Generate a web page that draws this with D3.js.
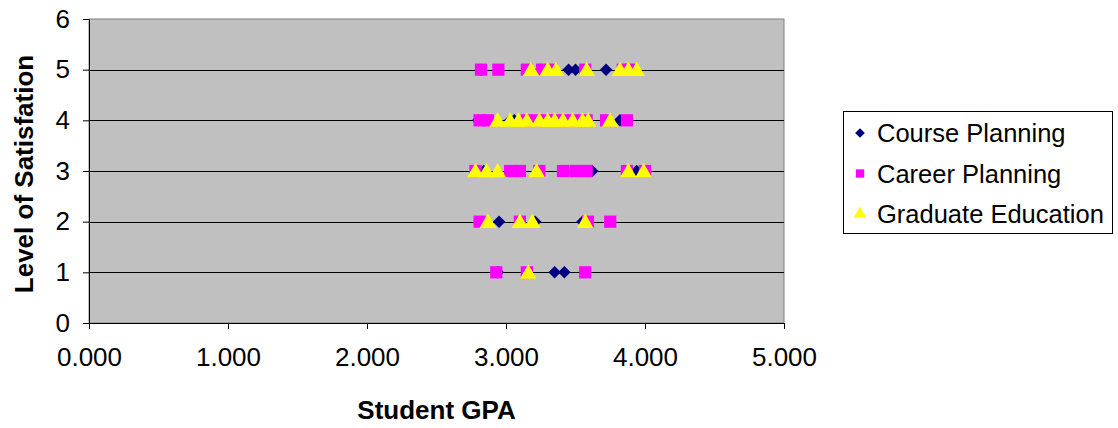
<!DOCTYPE html>
<html>
<head>
<meta charset="utf-8">
<script src="https://cdn.jsdelivr.net/npm/d3@7"></script>
<style>
	body { margin:0; background:#fff; overflow:hidden; }
	svg { display:block; }
	text { font-family: "Liberation Sans", Arial, sans-serif; }
</style>
</head>
<body>
<svg id="chart"></svg>
<script>
/*************** data *****************/
var seriesNames = ["Course Planning", "Career Planning", "Graduate Education"];
var xTicks = [0, 1, 2, 3, 4, 5];
var yTicks = [0, 1, 2, 3, 4, 5, 6];

// [GPA, satisfaction]
var coursePlanning = [
	[2.82,5],[3.25,5],[3.45,5],[3.50,5],[3.72,5],
	[2.80,4],[3.03,4],[3.06,4],[3.82,4],
	[2.84,3],[3.59,3],[3.62,3],[3.94,3],
	[2.95,2],[3.21,2],[3.55,2],
	[2.94,1],[3.35,1],[3.42,1]
];
var careerPlanning = [
	[2.82,5],[2.945,5],[3.15,5],[3.26,5],[3.33,5],[3.57,5],[3.84,5],[3.90,5],
	[2.81,4],[2.87,4],[3.15,4],[3.22,4],[3.29,4],[3.36,4],[3.43,4],[3.51,4],[3.58,4],[3.72,4],[3.87,4],
	[2.78,3],[3.03,3],[3.10,3],[3.24,3],[3.41,3],[3.50,3],[3.58,3],[3.87,3],[4.00,3],
	[2.81,2],[3.10,2],[3.59,2],[3.75,2],
	[2.93,1],[3.15,1],[3.57,1]
];
var graduateEducation = [
	[3.18,5],[3.30,5],[3.36,5],[3.58,5],[3.82,5],[3.88,5],[3.94,5],
	[2.94,4],[3.03,4],[3.09,4],[3.15,4],[3.24,4],[3.30,4],[3.35,4],[3.41,4],[3.48,4],[3.55,4],[3.59,4],[3.75,4],
	[2.78,3],[2.86,3],[2.94,3],[3.22,3],[3.88,3],[3.99,3],
	[2.87,2],[3.10,2],[3.19,2],[3.57,2],
	[3.16,1]
];
/*************** end data *****************/

var width = 1118, height = 428,
	margin = {top:19, right:334, bottom:105, left:89},
	innerWidth = width - margin.left - margin.right,
	innerHeight = height - margin.top - margin.bottom;

var colors = ["#000080", "#ff00ff", "#ffff00"];
var shapes = [
	d3.symbol().type(d3.symbolDiamond2).size(100),
	d3.symbol().type(d3.symbolSquare).size(150),
	d3.symbol().type(d3.symbolTriangle).size(120)
];

var svg = d3.select("#chart")
	.attr("width", width)
	.attr("height", height);

var g = svg.append("g")
	.attr("transform", "translate(" + margin.left + "," + margin.top + ")");

/*********** scales ****************/
var x = d3.scaleLinear().domain([0, 5]).range([0, innerWidth]);
var y = d3.scaleLinear().domain([0, 6]).range([innerHeight, 0]);

// plot area
g.append("rect")
	.attr("width", innerWidth)
	.attr("height", innerHeight)
	.attr("fill", "#c0c0c0")
	.attr("stroke", "#808080")
	.attr("stroke-width", 1);

// gridlines
g.append("g")
	.selectAll("line")
	.data(yTicks.filter(function(d){ return d > 0 && d < 6; }))
	.enter().append("line")
		.attr("x1", 0)
		.attr("x2", innerWidth)
		.attr("y1", function(d){ return Math.round(y(d)) + 0.5; })
		.attr("y2", function(d){ return Math.round(y(d)) + 0.5; })
		.attr("stroke", "#000")
		.attr("stroke-width", 1);

// axes
var yAxis = g.append("g")
	.call(d3.axisLeft(y).tickValues(yTicks).tickSize(6).tickPadding(13).tickFormat(d3.format("d")));
yAxis.selectAll("text").style("font-size", "26px").attr("fill", "#000");
yAxis.selectAll("line").attr("stroke", "#000");
yAxis.select(".domain").attr("stroke", "#000");

var xAxis = g.append("g")
	.attr("transform", "translate(0," + innerHeight + ")")
	.call(d3.axisBottom(x).tickValues(xTicks).tickSize(6).tickPadding(19).tickFormat(d3.format(".3f")));
xAxis.selectAll("text").style("font-size", "26px").attr("fill", "#000");
xAxis.selectAll("line").attr("stroke", "#000");
xAxis.select(".domain").attr("stroke", "#000");

// axis titles
svg.append("text")
	.attr("x", margin.left + x(2.5))
	.attr("y", 419)
	.attr("text-anchor", "middle")
	.style("font-size", "26px")
	.style("font-weight", "bold")
	.text("Student GPA");

svg.append("text")
	.attr("transform", "translate(33,174) rotate(-90)")
	.attr("text-anchor", "middle")
	.style("font-size", "26px")
	.style("font-weight", "bold")
	.text("Level of Satisfation");

/*********** markers ****************/
var allSeries = [coursePlanning, careerPlanning, graduateEducation];
allSeries.forEach(function(data, i){
	g.append("g")
		.selectAll("path")
		.data(data)
		.enter().append("path")
			.attr("d", shapes[i])
			.attr("transform", function(d){
				var dy = i === 2 ? 1.5 : 0;
				return "translate(" + x(d[0]) + "," + (y(d[1]) + dy) + ")";
			})
			.attr("fill", colors[i]);
});

/*********** legend ****************/
var legend = svg.append("g").attr("transform", "translate(843,111)");
legend.append("rect")
	.attr("x", 0.5).attr("y", 0.5)
	.attr("width", 269).attr("height", 122)
	.attr("fill", "#fff")
	.attr("stroke", "#000");

var legendShapes = [
	d3.symbol().type(d3.symbolDiamond2).size(60),
	d3.symbol().type(d3.symbolSquare).size(70),
	d3.symbol().type(d3.symbolTriangle).size(70)
];
seriesNames.forEach(function(name, i){
	var cy = 22 + i * 40.5;
	legend.append("path")
		.attr("d", legendShapes[i])
		.attr("transform", "translate(17," + cy + ")")
		.attr("fill", colors[i]);
	legend.append("text")
		.attr("x", 34)
		.attr("y", cy + 9)
		.style("font-size", "25.5px")
		.text(name);
});
</script>
</body>
</html>
